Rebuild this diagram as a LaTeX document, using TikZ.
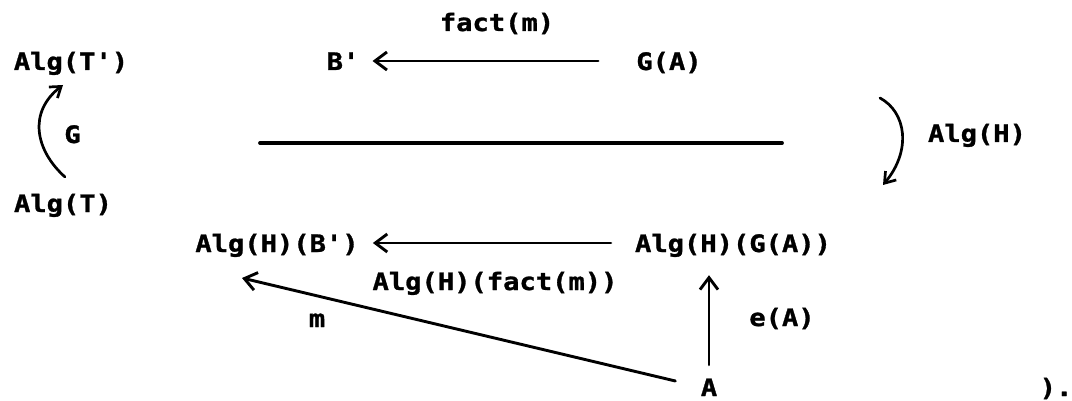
\documentclass[tikz,border=0pt]{standalone}
\usepackage{fontspec}
\setmonofont{DejaVu Sans Mono}[FakeStretch=1.13, FakeBold=1.2]
\usetikzlibrary{arrows.meta}
\tikzset{
  lbl/.style={font=\ttfamily\bfseries\fontsize{24}{24}\selectfont, inner sep=0pt,
              text height=18pt, text depth=0pt, anchor=base},
  arr/.style={line width=2.9pt, line cap=round,
              -{Straight Barb[length=12pt,width=18pt]}},
  carr/.style={line width=2.7pt, line cap=round,
              -{Straight Barb[length=10pt,width=14pt]}},
  barline/.style={line width=3.8pt, line cap=round}
}
\begin{document}
\begin{tikzpicture}[x=1pt,y=-1pt]
\useasboundingbox (0,0) rectangle (1072,401);
% top row
\node[lbl] (fm)   at (497,31)  {fact(m)};
\node[lbl] (AlgTp) at (71,70)  {Alg(T')};
\node[lbl] (Bp)   at (343,70)  {B'};
\node[lbl] (GA)   at (669,70)  {G(A)};
% middle
\node[lbl] (Gl)   at (72.5,143) {G};
\node[lbl] (AlgH) at (977,142) {Alg(H)};
\node[lbl] (AlgT) at (63,212)  {Alg(T)};
% lower rows
\node[lbl] (AHBp) at (277,252) {Alg(H)(B')};
\node[lbl] (AHGA) at (733,252) {Alg(H)(G(A))};
\node[lbl] (AHfm) at (495,290) {Alg(H)(fact(m))};
\node[lbl] (eA)   at (782,326) {e(A)};
\node[lbl] (ml)   at (317,327) {m};
\node[lbl] (A)    at (709,396) {A};
\node[lbl] (fin)  at (1056,396) {).};
% coordinates
\coordinate (Gs) at (65,177);
\coordinate (Ge) at (63,85);
\coordinate (Hs) at (880,98);
\coordinate (He) at (883,185);
\coordinate (barL) at (260,143);
\coordinate (barR) at (782,143);
\coordinate (mtip) at (242,278);
% connectors
\draw[arr, shorten <=38pt, shorten >=13pt] (GA.west) -- (GA.west -| Bp.east);
\draw[arr, shorten <=24pt, shorten >=14pt] (AHGA.west) -- (AHGA.west -| AHBp.east);
\draw[arr, shorten <=13pt, shorten >=23pt] (A.north) -- (A.north |- AHGA.south);
\draw[arr, shorten <=26pt] (A.west) -- (mtip);
\draw[carr] (Gs) .. controls (35,150) and (28,112) .. (Ge);
\draw[carr] (Hs) .. controls (906,112) and (912,150) .. (He);
\draw[barline] (barL) -- (barR);
\end{tikzpicture}
\end{document}
